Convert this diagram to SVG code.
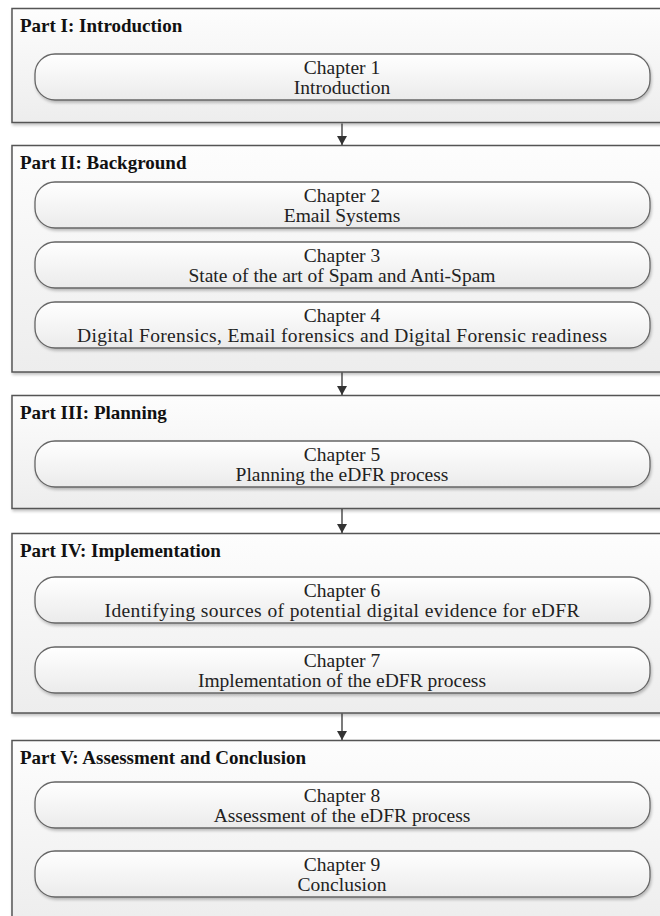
<svg xmlns="http://www.w3.org/2000/svg" width="660" height="916" viewBox="0 0 660 916">
  <defs>
    <linearGradient id="partFill" x1="0" y1="0" x2="0" y2="1">
      <stop offset="0" stop-color="#fdfdfd"/>
      <stop offset="1" stop-color="#ededed"/>
    </linearGradient>
    <linearGradient id="pillFill" x1="0" y1="0" x2="0" y2="1">
      <stop offset="0" stop-color="#ffffff"/>
      <stop offset="1" stop-color="#ebebeb"/>
    </linearGradient>
    <filter id="shadow" x="-5%" y="-20%" width="110%" height="150%">
      <feGaussianBlur in="SourceAlpha" stdDeviation="1.5"/>
      <feOffset dx="1" dy="2" result="off"/>
      <feComponentTransfer><feFuncA type="linear" slope="0.25"/></feComponentTransfer>
      <feMerge><feMergeNode/><feMergeNode in="SourceGraphic"/></feMerge>
    </filter>
    <!-- arrowhead drawn along +x; orient="auto" turns it to follow the line -->
    <marker id="arrow" markerWidth="10" markerHeight="10" refX="9" refY="5" orient="auto" markerUnits="userSpaceOnUse">
      <path d="M0,0 L9,5 L0,10 Z" fill="#333"/>
    </marker>
  </defs>
  <style>
    .part { fill: url(#partFill); stroke: #555; stroke-width: 1.5; filter: url(#shadow); }
    .pill { fill: url(#pillFill); stroke: #666; stroke-width: 1.3; filter: url(#shadow); }
    .title { font-family: "Liberation Serif", "Times New Roman", serif; font-weight: bold; font-size: 19px; fill: #111; }
    .label { font-family: "Liberation Serif", "Times New Roman", serif; font-size: 19.5px; fill: #222; text-anchor: middle; }
    .conn { stroke: #333; stroke-width: 1.3; fill: none; marker-end: url(#arrow); }
  </style>

  <rect width="660" height="916" fill="#ffffff"/>

  <!-- Part I -->
  <g id="part1">
    <rect class="part" x="12" y="8.5" width="652" height="114"/>
    <text class="title" x="20" y="32">Part I: Introduction</text>
    <g id="ch1">
      <rect class="pill" x="35" y="54" width="615" height="46" rx="20" ry="20"/>
      <text class="label" x="342" y="74">Chapter 1</text>
      <text class="label" x="342" y="94">Introduction</text>
    </g>
  </g>

  <!-- Part II -->
  <g id="part2">
    <rect class="part" x="12" y="145.5" width="652" height="226.5"/>
    <text class="title" x="20" y="169">Part II: Background</text>
    <g id="ch2">
      <rect class="pill" x="35" y="182" width="615" height="46" rx="20" ry="20"/>
      <text class="label" x="342" y="202">Chapter 2</text>
      <text class="label" x="342" y="222">Email Systems</text>
    </g>
    <g id="ch3">
      <rect class="pill" x="35" y="242" width="615" height="46" rx="20" ry="20"/>
      <text class="label" x="342" y="262">Chapter 3</text>
      <text class="label" x="342" y="282">State of the art of Spam and Anti-Spam</text>
    </g>
    <g id="ch4">
      <rect class="pill" x="35" y="302" width="615" height="46" rx="20" ry="20"/>
      <text class="label" x="342" y="322">Chapter 4</text>
      <text class="label" x="342" y="342" textLength="530" lengthAdjust="spacing">Digital Forensics, Email forensics and Digital Forensic readiness</text>
    </g>
  </g>

  <!-- Part III -->
  <g id="part3">
    <rect class="part" x="12" y="395.5" width="652" height="113"/>
    <text class="title" x="20" y="419">Part III: Planning</text>
    <g id="ch5">
      <rect class="pill" x="35" y="441" width="615" height="46" rx="20" ry="20"/>
      <text class="label" x="342" y="461">Chapter 5</text>
      <text class="label" x="342" y="481">Planning the eDFR process</text>
    </g>
  </g>

  <!-- Part IV -->
  <g id="part4">
    <rect class="part" x="12" y="533.5" width="652" height="179.5"/>
    <text class="title" x="20" y="557">Part IV: Implementation</text>
    <g id="ch6">
      <rect class="pill" x="35" y="577" width="615" height="46" rx="20" ry="20"/>
      <text class="label" x="342" y="597">Chapter 6</text>
      <text class="label" x="342" y="617" textLength="475" lengthAdjust="spacing">Identifying sources of potential digital evidence for eDFR</text>
    </g>
    <g id="ch7">
      <rect class="pill" x="35" y="647" width="615" height="46" rx="20" ry="20"/>
      <text class="label" x="342" y="667">Chapter 7</text>
      <text class="label" x="342" y="687">Implementation of the eDFR process</text>
    </g>
  </g>

  <!-- Part V -->
  <g id="part5">
    <rect class="part" x="12" y="740.5" width="652" height="185"/>
    <text class="title" x="20" y="764">Part V: Assessment and Conclusion</text>
    <g id="ch8">
      <rect class="pill" x="35" y="782" width="615" height="46" rx="20" ry="20"/>
      <text class="label" x="342" y="802">Chapter 8</text>
      <text class="label" x="342" y="822">Assessment of the eDFR process</text>
    </g>
    <g id="ch9">
      <rect class="pill" x="35" y="851" width="615" height="46" rx="20" ry="20"/>
      <text class="label" x="342" y="871">Chapter 9</text>
      <text class="label" x="342" y="891">Conclusion</text>
    </g>
  </g>

  <!-- Connectors between parts -->
  <g id="connectors">
    <line class="conn" x1="342" y1="123.5" x2="342" y2="145"/>
    <line class="conn" x1="342" y1="372.5" x2="342" y2="395"/>
    <line class="conn" x1="342" y1="509" x2="342" y2="533"/>
    <line class="conn" x1="342" y1="713.5" x2="342" y2="740"/>
  </g>
</svg>
